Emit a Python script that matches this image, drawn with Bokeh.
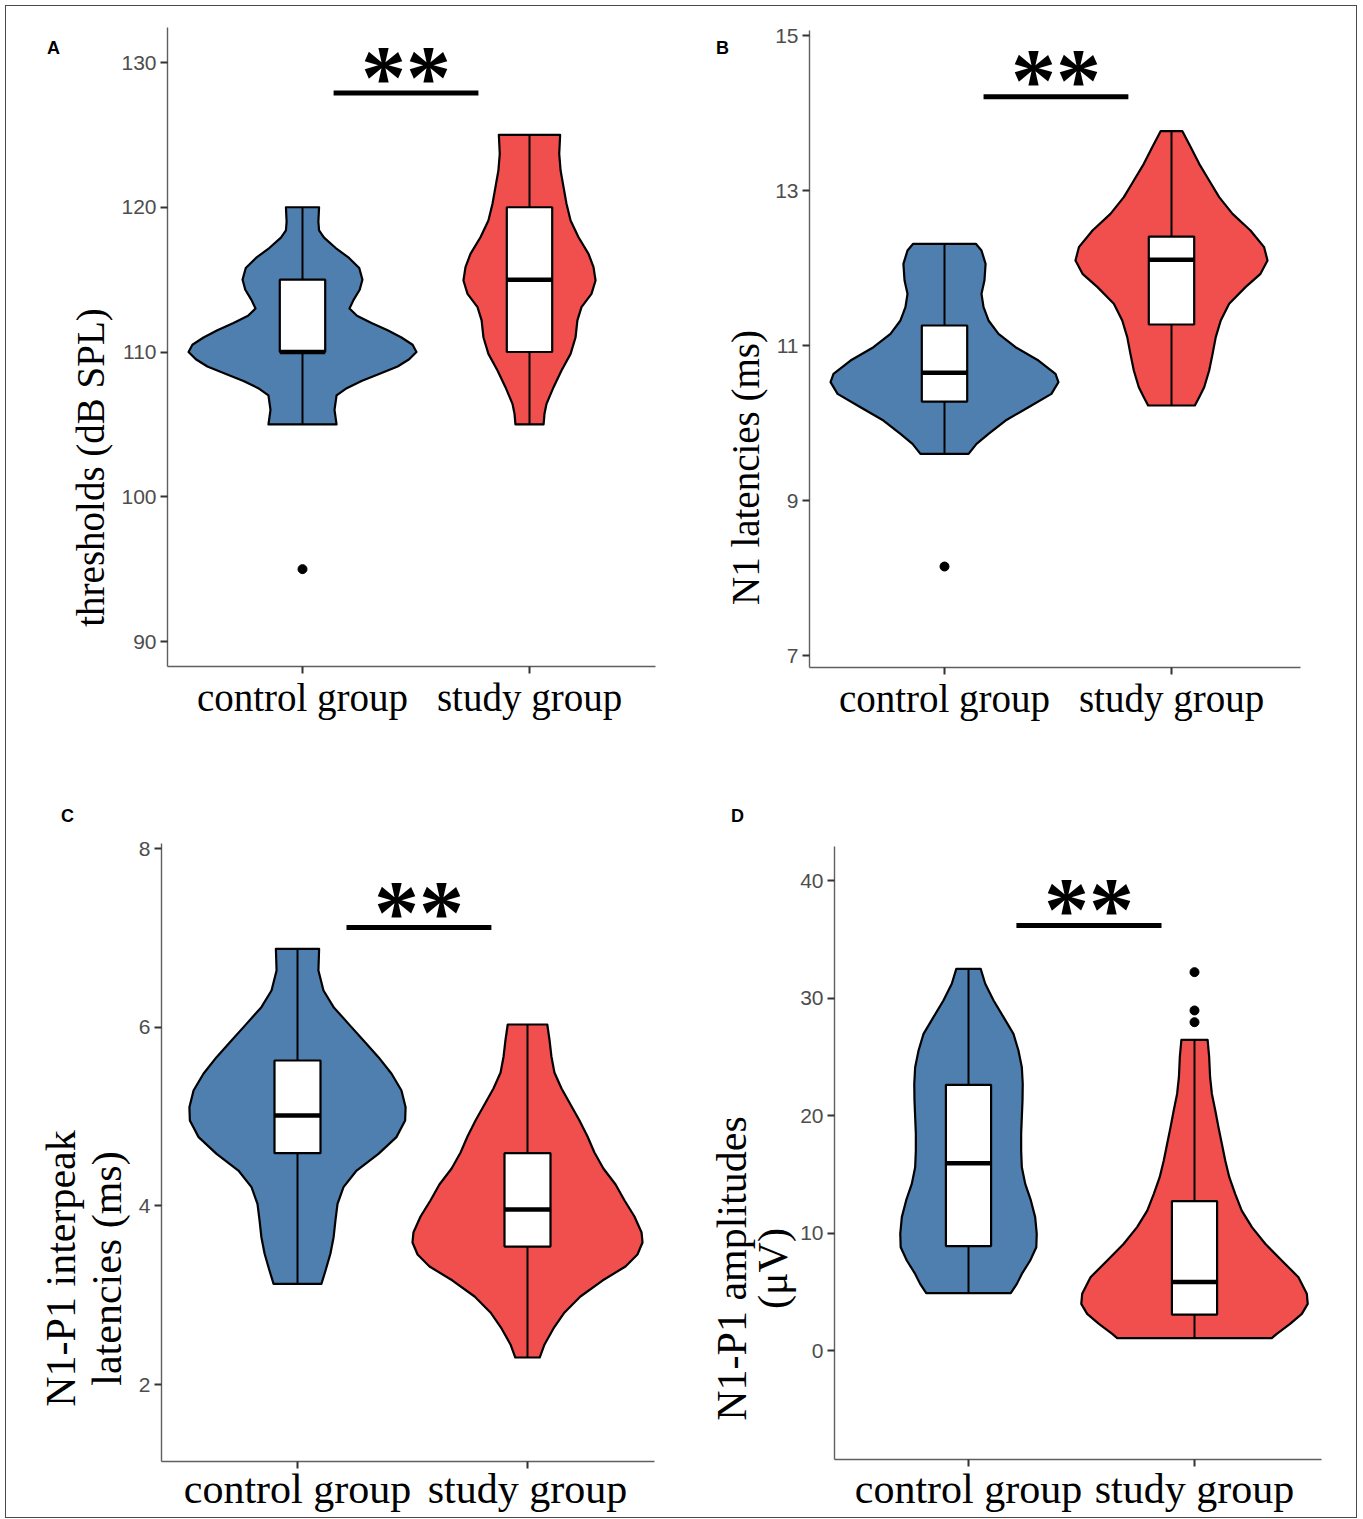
from math import pi
from bokeh.plotting import figure
from bokeh.models import Range1d, FixedTicker, Label
from bokeh.layouts import column, row
from bokeh.embed import file_html
from bokeh.resources import INLINE

# ---------------- data ----------------
groups = ["control group", "study group"]
group_pos = [1, 2]

# Panel A: thresholds (dB SPL)
A_ctrl_vy = [120.0, 119.0, 118.4, 117.9, 117.2, 116.5, 115.8, 115.0, 114.3, 113.6, 113.0, 112.5,
             112.0, 111.5, 111.0, 110.5, 110.0, 109.5, 109.0, 108.5, 108.0, 107.5, 107.0, 106.0, 105.0]
A_ctrl_hw = [0.073, 0.070, 0.073, 0.095, 0.145, 0.205, 0.250, 0.264, 0.252, 0.225, 0.207, 0.240,
             0.304, 0.375, 0.436, 0.485, 0.502, 0.470, 0.419, 0.340, 0.260, 0.195, 0.150, 0.141, 0.150]
A_study_vy = [125.0, 123.69, 122.54, 121.39, 120.24, 119.08, 117.93, 116.78, 115.86, 114.94, 114.02,
              113.10, 112.18, 111.02, 109.87, 108.72, 107.57, 106.42, 105.73, 105.0]
A_study_hw = [0.135, 0.131, 0.137, 0.150, 0.163, 0.181, 0.216, 0.260, 0.282, 0.291, 0.273,
              0.229, 0.211, 0.203, 0.181, 0.141, 0.106, 0.075, 0.066, 0.062]
A_q1 = [110, 110]
A_med = [110, 115]
A_q3 = [115, 120]
A_lo = [105, 105]
A_hi = [120, 125]
A_out_x = [1]
A_out_y = [95]
A_yticks = [90, 100, 110, 120, 130]
A_sig = [1.137, 1.775, 127.9]      # x0, x1, y of the significance bar
A_star_y = 128.96
A_ylabel = "thresholds (dB SPL)"

# Panel B: N1 latencies (ms)
B_ctrl_vy = [12.312, 12.226, 12.054, 11.839, 11.667, 11.495, 11.323, 11.151, 10.978, 10.806,
             10.634, 10.527, 10.376, 10.204, 10.032, 9.860, 9.731, 9.602]
B_ctrl_hw = [0.138, 0.163, 0.181, 0.176, 0.163, 0.172, 0.194, 0.238, 0.313, 0.414,
             0.489, 0.502, 0.471, 0.370, 0.269, 0.194, 0.141, 0.106]
B_study_vy = [13.765, 13.559, 13.344, 13.129, 12.914, 12.699, 12.484, 12.269, 12.097, 11.925,
              11.753, 11.538, 11.323, 11.108, 10.892, 10.677, 10.462, 10.333, 10.226]
B_study_hw = [0.048, 0.085, 0.122, 0.166, 0.210, 0.269, 0.348, 0.408, 0.423, 0.392,
              0.326, 0.254, 0.217, 0.195, 0.181, 0.166, 0.144, 0.122, 0.103]
B_q1 = [10.277, 11.271]
B_med = [10.648, 12.106]
B_q3 = [11.258, 12.406]
B_lo = [9.602, 10.226]
B_hi = [12.312, 13.765]
B_out_x = [1]
B_out_y = [8.148]
B_yticks = [7, 9, 11, 13, 15]
B_sig = [1.172, 1.810, 14.21]
B_star_y = 14.419
B_ylabel = "N1 latencies (ms)"

# Panel C: N1-P1 interpeak latencies (ms)
C_ctrl_vy = [6.877, 6.634, 6.410, 6.224, 6.037, 5.851, 5.664, 5.478, 5.291, 5.104, 4.955,
             4.769, 4.582, 4.395, 4.209, 4.022, 3.836, 3.649, 3.463, 3.276, 3.127]
C_ctrl_hw = [0.094, 0.091, 0.113, 0.157, 0.222, 0.287, 0.352, 0.409, 0.452, 0.470, 0.468,
             0.430, 0.352, 0.257, 0.200, 0.174, 0.165, 0.157, 0.143, 0.122, 0.104]
C_study_vy = [6.030, 5.851, 5.672, 5.492, 5.313, 5.134, 4.955, 4.776, 4.597, 4.418, 4.239, 4.060,
              3.881, 3.701, 3.590, 3.455, 3.321, 3.164, 2.985, 2.806, 2.627, 2.448, 2.302]
C_study_hw = [0.086, 0.096, 0.104, 0.117, 0.148, 0.187, 0.226, 0.261, 0.291, 0.330, 0.383, 0.422,
              0.465, 0.496, 0.500, 0.478, 0.426, 0.326, 0.230, 0.161, 0.113, 0.074, 0.053]
C_q1 = [4.589, 3.544]
C_med = [5.011, 3.958]
C_q3 = [5.627, 4.589]
C_lo = [3.127, 2.302]
C_hi = [6.877, 6.030]
C_out_x = []
C_out_y = []
C_yticks = [2, 4, 6, 8]
C_sig = [1.213, 1.843, 7.116]
C_star_y = 7.283
C_ylabel = "N1-P1 interpeak\nlatencies (ms)"

# Panel D: N1-P1 amplitudes (µV)
D_ctrl_vy = [32.48, 31.21, 29.79, 28.37, 26.95, 25.53, 24.11, 22.70, 21.28, 19.86, 18.44,
             17.02, 15.60, 14.18, 12.77, 11.35, 9.93, 8.79, 7.66, 6.52, 5.67, 4.88]
D_ctrl_hw = [0.054, 0.074, 0.111, 0.155, 0.199, 0.221, 0.236, 0.240, 0.239, 0.236, 0.233,
             0.233, 0.236, 0.251, 0.276, 0.295, 0.302, 0.300, 0.273, 0.236, 0.214, 0.187]
D_study_vy = [26.44, 24.96, 23.26, 21.84, 20.43, 19.01, 17.59, 16.17, 14.75, 13.33, 11.91,
              10.50, 9.08, 7.66, 6.24, 4.82, 3.97, 3.12, 2.27, 1.42, 1.05]
D_study_hw = [0.058, 0.065, 0.069, 0.077, 0.092, 0.106, 0.121, 0.136, 0.154, 0.180, 0.209,
              0.254, 0.313, 0.386, 0.460, 0.497, 0.501, 0.475, 0.423, 0.364, 0.342]
D_q1 = [8.89, 3.06]
D_med = [15.94, 5.82]
D_q3 = [22.61, 12.71]
D_lo = [4.88, 1.05]
D_hi = [32.48, 26.44]
D_out_x = [2, 2, 2]
D_out_y = [32.2, 28.94, 27.94]
D_yticks = [0, 10, 20, 30, 40]
D_sig = [1.212, 1.854, 36.17]
D_star_y = 37.53
D_ylabel = "N1-P1 amplitudes\n(\u03bcV)"

# ---------------- styling / layout (page pixels) ----------------
BLUE = "#4E7FAF"
RED = "#F14E4E"
BOX_HALF = 0.1

panels = [
    dict(letter="A", canvas=(6, 6, 692, 774), xmap=(302, 529), ymap=(130, 62, 90, 641),
         axbox=(167, 655, 27, 666), ylab_px=(90, 467), let_px=(53, 47), fs="39px", lh=1.0,
         standoff=2,
         ctrl=(A_ctrl_vy, A_ctrl_hw), study=(A_study_vy, A_study_hw),
         q1=A_q1, med=A_med, q3=A_q3, lo=A_lo, hi=A_hi, ox=A_out_x, oy=A_out_y,
         yticks=A_yticks, sig=A_sig, star_y=A_star_y, ylabel=A_ylabel),
    dict(letter="B", canvas=(698, 6, 658, 774), xmap=(944, 1171), ymap=(15, 35, 7, 655),
         axbox=(809, 1300, 30, 667), ylab_px=(745, 467), let_px=(722, 47), fs="39px", lh=1.0,
         standoff=2,
         ctrl=(B_ctrl_vy, B_ctrl_hw), study=(B_study_vy, B_study_hw),
         q1=B_q1, med=B_med, q3=B_q3, lo=B_lo, hi=B_hi, ox=B_out_x, oy=B_out_y,
         yticks=B_yticks, sig=B_sig, star_y=B_star_y, ylabel=B_ylabel),
    dict(letter="C", canvas=(6, 780, 692, 737), xmap=(297, 527), ymap=(8, 848, 2, 1384),
         axbox=(161, 654, 843, 1461), ylab_px=(83, 1268), let_px=(67, 815), fs="42px", lh=1.0,
         standoff=-3,
         ctrl=(C_ctrl_vy, C_ctrl_hw), study=(C_study_vy, C_study_hw),
         q1=C_q1, med=C_med, q3=C_q3, lo=C_lo, hi=C_hi, ox=C_out_x, oy=C_out_y,
         yticks=C_yticks, sig=C_sig, star_y=C_star_y, ylabel=C_ylabel),
    dict(letter="D", canvas=(698, 780, 658, 737), xmap=(968, 1194), ymap=(40, 880, 0, 1350),
         axbox=(834, 1321, 846, 1459), ylab_px=(752, 1268), let_px=(737, 815), fs="42px", lh=0.9,
         standoff=-1,
         ctrl=(D_ctrl_vy, D_ctrl_hw), study=(D_study_vy, D_study_hw),
         q1=D_q1, med=D_med, q3=D_q3, lo=D_lo, hi=D_hi, ox=D_out_x, oy=D_out_y,
         yticks=D_yticks, sig=D_sig, star_y=D_star_y, ylabel=D_ylabel),
]


def make_panel(c):
    cx, cy, w, h = c["canvas"]
    px1, px2 = c["xmap"]
    v1, py1, v2, py2 = c["ymap"]

    def xd(px):
        return 1 + (px - px1) / (px2 - px1)

    def yd(py):
        return v1 + (py - py1) * (v2 - v1) / (py2 - py1)

    p = figure(width=w, height=h,
               x_range=Range1d(xd(cx), xd(cx + w)), y_range=Range1d(yd(cy + h), yd(cy)),
               output_backend="svg", toolbar_location=None, min_border=0)
    p.xgrid.visible = False
    p.ygrid.visible = False
    p.outline_line_color = None
    p.background_fill_color = "white"
    p.border_fill_color = "white"

    al, ar, at, ab = c["axbox"]
    xa, ya = p.xaxis[0], p.yaxis[0]
    for ax in (xa, ya):
        ax.axis_line_color = "#5f5f5f"
        ax.axis_line_width = 1.4
        ax.major_tick_line_color = "#333333"
        ax.major_tick_line_width = 2
        ax.major_tick_out = 7
        ax.major_tick_in = 0
        ax.minor_tick_line_color = None
    xa.fixed_location = yd(ab)
    xa.bounds = (xd(al), xd(ar))
    xa.ticker = FixedTicker(ticks=group_pos)
    xa.major_label_overrides = {g: t for g, t in zip(group_pos, groups)}
    xa.major_label_text_font = "Liberation Serif"
    xa.major_label_text_font_size = c["fs"]
    xa.major_label_text_color = "black"
    xa.major_label_standoff = c["standoff"]
    ya.fixed_location = xd(al)
    ya.bounds = (yd(ab), yd(at))
    ya.ticker = FixedTicker(ticks=c["yticks"])
    ya.major_label_text_font = "Liberation Sans"
    ya.major_label_text_font_size = "21px"
    ya.major_label_text_color = "#4d4d4d"
    ya.major_label_standoff = 4

    # violins
    for gp, (vy, hw), col in zip(group_pos, (c["ctrl"], c["study"]), (BLUE, RED)):
        xs = [gp + hh for hh in hw] + [gp - hh for hh in reversed(hw)]
        ys = list(vy) + list(reversed(vy))
        p.patch(xs, ys, fill_color=col, line_color="black", line_width=2.2, line_join="round")

    # whiskers
    p.segment(x0=group_pos, y0=c["q3"], x1=group_pos, y1=c["hi"], line_color="black", line_width=2)
    p.segment(x0=group_pos, y0=c["lo"], x1=group_pos, y1=c["q1"], line_color="black", line_width=2)
    # boxes
    p.quad(left=[g - BOX_HALF for g in group_pos], right=[g + BOX_HALF for g in group_pos],
           bottom=c["q1"], top=c["q3"], fill_color="white", line_color="black", line_width=2.2)
    p.segment(x0=[g - BOX_HALF for g in group_pos], x1=[g + BOX_HALF for g in group_pos],
              y0=c["med"], y1=c["med"], line_color="black", line_width=4.5)
    # outliers
    if c["ox"]:
        p.scatter(x=c["ox"], y=c["oy"], size=9, color="black")

    # significance bar and stars
    x0, x1, sy = c["sig"]
    p.segment(x0=[x0], x1=[x1], y0=[sy], y1=[sy], line_color="black", line_width=5, line_cap="butt")
    p.add_layout(Label(x=(x0 + x1) / 2, y=c["star_y"], text="**", text_font="Liberation Serif",
                       text_font_style="bold", text_font_size="90px", text_align="center",
                       text_baseline="alphabetic", text_color="black"))

    # y-axis title
    lx, ly = c["ylab_px"]
    p.add_layout(Label(x=xd(lx), y=yd(ly), text=c["ylabel"], angle=pi / 2,
                       text_font="Liberation Serif", text_font_size=c["fs"],
                       text_align="center", text_baseline="middle", text_color="black",
                       text_line_height=c["lh"]))
    # panel letter
    kx, ky = c["let_px"]
    p.add_layout(Label(x=xd(kx), y=yd(ky), text=c["letter"],
                       text_font="Liberation Sans", text_font_style="bold", text_font_size="18px",
                       text_align="center", text_baseline="middle", text_color="black"))
    return p


figs = [make_panel(c) for c in panels]
layout = column(row(figs[0], figs[1]), row(figs[2], figs[3]),
                margin=(5, 0, 0, 5), styles={"border": "1px solid #4a4a4a"})

open("out.html", "w").write(file_html(layout, INLINE))
